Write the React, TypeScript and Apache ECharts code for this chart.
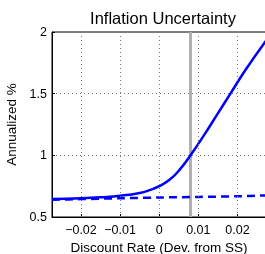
import React, { useEffect, useRef } from "react";
import * as echarts from "echarts";

const solidX = [-0.0274, -0.02, -0.015, -0.01, -0.005, -0.0023, 0, 0.0028, 0.0054, 0.008, 0.0118, 0.015, 0.0182, 0.022, 0.0273];
const solidY = [0.645, 0.652, 0.66, 0.672, 0.695, 0.72, 0.75, 0.806, 0.89, 1.0, 1.18, 1.34, 1.5, 1.69, 1.93];
const dashX = [-0.0274, -0.02, -0.01, 0, 0.01, 0.02, 0.0273];
const dashY = [0.64, 0.645, 0.652, 0.658, 0.663, 0.668, 0.675];
const xTicks = [-0.02, -0.01, 0, 0.01, 0.02];
const markerX = 0.008;
const yRange = [0.5, 2];

const fmt = (v: number) => {
  const r = Math.round(v * 1000) / 1000;
  if (r === 0) return "0";
  const s = Math.abs(r).toString();
  return (r < 0 ? "\u2212" : "") + s;
};

export default function App() {
  const ref = useRef<HTMLDivElement>(null);
  useEffect(() => {
    const chart = echarts.init(ref.current!, null, { renderer: "svg" });
    const font = "Liberation Sans, Arial, sans-serif";
    const gridStyle = { color: "#777", type: [1, 3], width: 1 };
    chart.setOption({
      animation: false,
      title: {
        text: "Inflation Uncertainty",
        left: 158,
        textAlign: "center",
        top: 4,
        textStyle: { fontFamily: font, fontSize: 16.5, fontWeight: "normal", color: "#000" },
      },
      grid: { left: 52, top: 32, bottom: 37, right: -1, show: true, borderColor: "#000", borderWidth: 1, outerBoundsMode: "none", containLabel: false },
      xAxis: {
        type: "value",
        min: -0.0274,
        max: 0.0273,
        name: "Discount Rate (Dev. from SS)",
        nameLocation: "middle",
        nameGap: 19,
        nameTextStyle: { fontFamily: font, fontSize: 13.5, color: "#000" },
        axisLine: { show: true, onZero: false, lineStyle: { color: "#000" } },
        axisTick: { show: true, inside: true, length: 3, customValues: xTicks, lineStyle: { color: "#000" } },
        axisLabel: { customValues: xTicks, formatter: (v: number) => fmt(v), fontFamily: font, fontSize: 12.5, color: "#000", margin: 6 },
        splitLine: { show: false },
      },
      yAxis: {
        type: "value",
        min: yRange[0],
        max: yRange[1],
        interval: 0.5,
        name: "Annualized %",
        nameLocation: "middle",
        nameGap: 29,
        nameTextStyle: { fontFamily: font, fontSize: 13.5, color: "#000" },
        axisLine: { show: true, onZero: false, lineStyle: { color: "#000" } },
        axisTick: { show: true, inside: true, length: 3, lineStyle: { color: "#000" } },
        axisLabel: { formatter: (v: number) => fmt(v), fontFamily: font, fontSize: 12.5, color: "#000", margin: 5 },
        splitLine: { show: true, lineStyle: gridStyle },
      },
      series: [
        {
          type: "line",
          data: yRange.map((y) => [markerX, y]),
          showSymbol: false,
          silent: true,
          lineStyle: { color: "#b0b0b0", width: 3 },
          z: 2,
          markLine: {
            silent: true,
            symbol: "none",
            precision: 5,
            label: { show: false },
            data: xTicks.map((x) => ({ xAxis: x, lineStyle: gridStyle })),
          },
        },
        {
          type: "line",
          data: dashX.map((x, i) => [x, dashY[i]]),
          showSymbol: false,
          smooth: 0.3,
          lineStyle: { color: "#0000ff", width: 2.5, type: [8, 5] },
          z: 3,
        },
        {
          type: "line",
          data: solidX.map((x, i) => [x, solidY[i]]),
          showSymbol: false,
          smooth: 0.5,
          lineStyle: { color: "#0000ff", width: 2.5 },
          z: 4,
        },
      ],
    });
    return () => chart.dispose();
  }, []);
  return <div ref={ref} style={{ width: 265, height: 254, position: "fixed", left: 0, top: 0 }} />;
}
